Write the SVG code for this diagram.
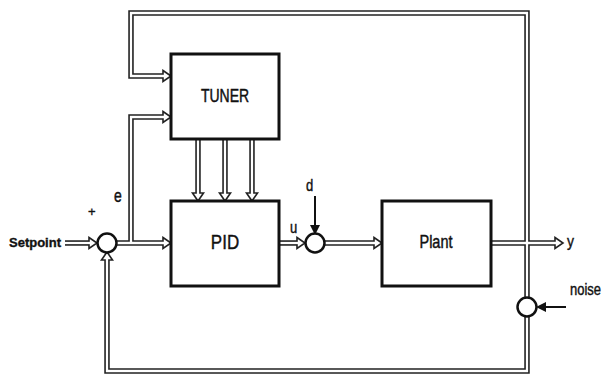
<svg xmlns="http://www.w3.org/2000/svg" width="605" height="376" viewBox="0 0 605 376">
<style>
.box{fill:#fff;stroke:#111;stroke-width:3}
.sum{fill:#fff;stroke:#111;stroke-width:2.5}
.o{fill:none;stroke:#222;stroke-width:5.5}
.i{fill:none;stroke:#fff;stroke-width:2.3}
.ah{fill:#fff;stroke:#222;stroke-width:1.6;stroke-linejoin:miter}
.sl{fill:none;stroke:#111;stroke-width:2}
.t{font-family:"Liberation Sans",Arial,sans-serif;fill:#111;stroke:#111;stroke-width:0.35}
</style>
<defs>
<path id="c1" d="M65,243 H92"/>
<path id="c2" d="M117,243 H166"/>
<path id="c3" d="M131,243 V117 H166"/>
<path id="c4" d="M166,76 H131 V13 H527 V371 H107 V257"/>
<path id="c5" d="M279,243 H300"/>
<path id="c6" d="M325,243 H377"/>
<path id="c7" d="M491,243 H557"/>
<path id="c8" d="M198,139 V196"/>
<path id="c9" d="M225,139 V196"/>
<path id="c10" d="M252,139 V196"/>
<polygon id="ar" points="-8,-5.5 0,0 -8,5.5"/>
<marker id="fa" markerWidth="10" markerHeight="10" refX="8" refY="5" orient="auto" markerUnits="userSpaceOnUse"><path d="M0,0 L10,5 L0,10 z" fill="#111"/></marker>
</defs>
<g id="connectors">
<use href="#c1" class="o"/><use href="#c2" class="o"/><use href="#c3" class="o"/><use href="#c4" class="o"/><use href="#c5" class="o"/><use href="#c6" class="o"/><use href="#c7" class="o"/><use href="#c8" class="o"/><use href="#c9" class="o"/><use href="#c10" class="o"/>
<use href="#ar" class="ah" transform="translate(97,243)"/>
<use href="#ar" class="ah" transform="translate(171,243)"/>
<use href="#ar" class="ah" transform="translate(171,117)"/>
<use href="#ar" class="ah" transform="translate(171,76)"/>
<use href="#ar" class="ah" transform="translate(107,252) rotate(-90)"/>
<use href="#ar" class="ah" transform="translate(305,243)"/>
<use href="#ar" class="ah" transform="translate(382,243)"/>
<use href="#ar" class="ah" transform="translate(563,243)"/>
<use href="#ar" class="ah" transform="translate(198,201) rotate(90)"/>
<use href="#ar" class="ah" transform="translate(225,201) rotate(90)"/>
<use href="#ar" class="ah" transform="translate(252,201) rotate(90)"/>
<use href="#c1" class="i"/><use href="#c2" class="i"/><use href="#c3" class="i"/><use href="#c4" class="i"/><use href="#c5" class="i"/><use href="#c6" class="i"/><use href="#c7" class="i"/><use href="#c8" class="i"/><use href="#c9" class="i"/><use href="#c10" class="i"/>
<path d="M315,196 V233" class="sl" marker-end="url(#fa)"/>
<path d="M566,307 H538" class="sl" marker-end="url(#fa)"/>
</g>
<g id="tuner"><rect class="box" x="171" y="54" width="108" height="85"/><text class="t" font-size="14" text-anchor="middle" transform="translate(225,102) scale(1,1.35)">TUNER</text></g>
<g id="pid"><rect class="box" x="171" y="201" width="108" height="85"/><text class="t" font-size="17" text-anchor="middle" transform="translate(225,249) scale(1,1.15)">PID</text></g>
<g id="plant"><rect class="box" x="382" y="201" width="109" height="85"/><text class="t" font-size="14.5" text-anchor="middle" transform="translate(436,248) scale(1,1.3)">Plant</text></g>
<g id="sum1"><circle class="sum" cx="107" cy="243" r="9.5"/></g>
<g id="sum2"><circle class="sum" cx="315" cy="243" r="9.5"/></g>
<g id="sum3"><circle class="sum" cx="527" cy="307" r="9.5"/></g>
<g id="labels">
<text class="t" font-size="13" font-weight="bold" x="9" y="247">Setpoint</text>
<text class="t" font-size="13" x="88" y="216">+</text>
<text class="t" font-size="14" transform="translate(114,202) scale(1,1.3)">e</text>
<text class="t" font-size="13" transform="translate(290,233) scale(1,1.2)">u</text>
<text class="t" font-size="13" transform="translate(306,191) scale(1,1.2)">d</text>
<text class="t" font-size="14" transform="translate(567,247) scale(1,1.2)">y</text>
<text class="t" font-size="13" transform="translate(570,295) scale(1,1.2)">noise</text>
</g>
</svg>
